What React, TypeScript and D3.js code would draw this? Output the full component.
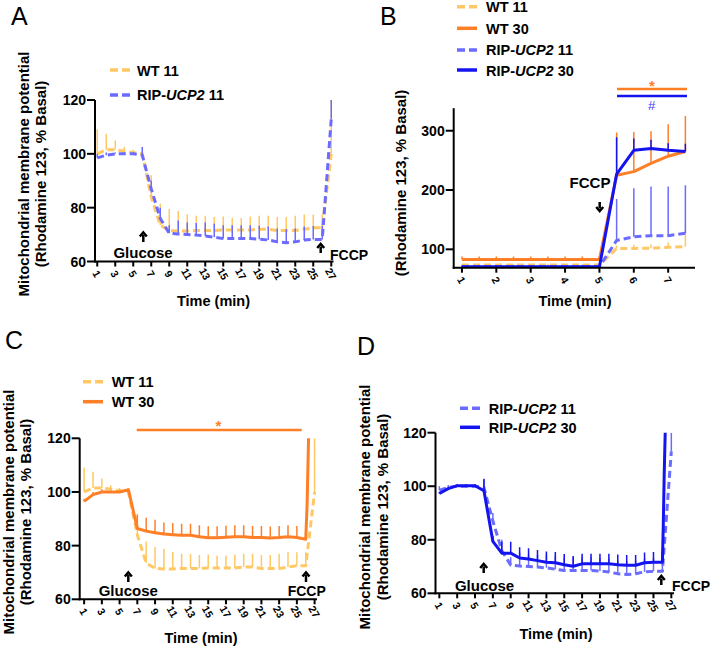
import React from 'react';
import * as d3 from 'd3';

const FONT = '"Liberation Sans", Arial, Helvetica, sans-serif';

const COL_WT11 = '#FFC864';
const COL_WT30 = '#FF7F27';
const COL_RIP11 = '#6B6BFF';
const COL_RIP30 = '#1414F0';

// ---------- Data: 27-minute recordings (panels A, C, D) ----------
const minutes = [1, 2, 3, 4, 5, 6, 7, 8, 9, 10, 11, 12, 13, 14, 15, 16, 17, 18, 19, 20, 21, 22, 23, 24, 25, 26, 27];

const wt11 = [100, 101.5, 101.5, 101, 100.5, 100, 84, 73.5, 71.5, 71.3, 71.3, 71.5, 71.5, 71.5, 71.7, 71.7, 71.7, 71.7, 72, 72, 71.5, 71.5, 71.5, 72, 72.5, 72.5, 100];
const wt11Err = [9, 6, 3.5, 1.5, 1, 1, 8, 8, 8, 7.5, 6.3, 5.5, 5.5, 5, 5, 4.5, 4.5, 5, 5, 5, 5, 5, 5.5, 5.5, 5, 5, 20];

const rip11 = [98.5, 99.5, 100, 100, 100, 99.5, 87, 76, 70.5, 70.2, 70, 69.8, 69.5, 69, 68.5, 68.5, 68.5, 68.5, 68.3, 68, 67.3, 67, 67.3, 68, 68.2, 68.2, 113];
const rip11Err = [1.5, 1, 0.5, 0.5, 0.5, 3, 3, 4, 3, 5, 4.5, 4.5, 5, 5, 5, 5, 5, 5, 5, 5, 5, 5, 5, 5, 5, 5, 7];

const wt30Time = [1, 2, 3, 4, 5, 6, 7, 8, 9, 10, 11, 12, 13, 14, 15, 16, 17, 18, 19, 20, 21, 22, 23, 24, 25, 26, 26.15, 26.35];
const wt30 = [96.5, 99, 100, 100, 100, 100.8, 86.4, 85.4, 84.8, 84.3, 84.1, 83.9, 83.9, 83.3, 82.9, 82.9, 83.1, 83.3, 83.3, 83, 83, 82.8, 83, 83.3, 83, 82.4, 95, 125];
const wt30Err = [1, 1, 1, 0.5, 0.5, 0.5, 5, 5, 4.8, 4.3, 4.3, 4.3, 4.3, 4.3, 4.3, 4.3, 4.3, 4.3, 4.3, 4.3, 4.3, 4.3, 4.3, 4.3, 4.3, 4.3, 0, 0];

const rip30Time = [1, 2, 3, 4, 5, 6, 7, 8, 9, 10, 11, 12, 13, 14, 15, 16, 17, 18, 19, 20, 21, 22, 23, 24, 25, 26, 26.1, 26.2, 26.35];
const rip30 = [97.3, 99.1, 100.2, 100.2, 100.2, 98.3, 79.4, 75, 75, 73.2, 72.8, 72.2, 71.6, 71.4, 70.7, 70.1, 71, 71, 71, 71, 70.7, 70.5, 70.5, 71.4, 71.6, 71.6, 85.6, 104, 125];
const rip30Err = [0.5, 0.5, 0.5, 0.5, 0.5, 4.5, 2, 4.3, 4.3, 4, 4, 4, 4, 4, 4, 3.8, 3.8, 3.8, 3.8, 3.8, 3.8, 3.8, 3.8, 3.8, 3.8, 3.8, 0, 0, 0];

// ---------- Data: FCCP recordings (panel B) ----------
const timeB = [1, 1.5, 2, 2.5, 3, 3.5, 4, 4.5, 5, 5.5, 6, 6.5, 7, 7.5];
const bWt11 = [73.5, 73.5, 73.5, 73.5, 73.5, 73.5, 73.5, 73.5, 73.5, 101.5, 101.5, 102, 103.5, 104.5];
const bWt11Err = [1.5, 1.5, 1.5, 1.5, 1.5, 1.5, 1.5, 1.5, 1.5, 5, 6, 6, 8, 27];
const bWt30 = [83, 83, 83, 83, 83, 83, 83, 83, 83, 225, 231, 245, 257, 265];
const bWt30Err = [5, 5, 5, 5, 5, 5, 5, 5, 5, 72, 67, 54, 54, 60];
const bRip11 = [70.8, 70.8, 70.8, 70.8, 70.8, 70.8, 70.8, 70.8, 70.8, 115, 121, 123, 123, 127];
const bRip11Err = [1, 1, 1, 1, 1, 1, 1, 1, 1, 70, 82, 83, 83, 81];
const bRip30 = [70.5, 70.5, 70.5, 70.5, 70.5, 70.5, 70.5, 70.5, 70.5, 227, 267, 270, 267, 265];
const bRip30Err = [2, 2, 2, 2, 2, 2, 2, 2, 2, 62, 20, 15, 12, 13];

// ---------- Ticks ----------
const oddMinuteTicks = [1, 3, 5, 7, 9, 11, 13, 15, 17, 19, 21, 23, 25, 27];
const yTicksPct = [60, 80, 100, 120];
const xTicksB = [1, 2, 3, 4, 5, 6, 7];
const yTicksB = [100, 200, 300];

type Series = { t: number[]; v: number[]; e: number[]; color: string; dashed: boolean; width: number };

type PanelProps = {
  id: string;
  xDomain: [number, number];
  xRange: [number, number];
  yDomain: [number, number];
  yRange: [number, number];
  xTicks: number[];
  yTicks: number[];
  series: Series[];
};

function Panel(p: PanelProps) {
  const x = d3.scaleLinear().domain(p.xDomain).range(p.xRange);
  const y = d3.scaleLinear().domain(p.yDomain).range(p.yRange);
  const [x0, x1] = p.xRange;
  const [y0, y1] = p.yRange;
  const line = d3
    .line<[number, number]>()
    .x((d) => x(d[0]))
    .y((d) => y(d[1]));
  return (
    <g>
      <defs>
        <clipPath id={p.id}>
          <rect x={x0} y={y1} width={x1 - x0 + 4} height={y0 - y1} />
        </clipPath>
      </defs>
      <g clipPath={`url(#${p.id})`}>
        {p.series.map((s, i) => (
          <g key={i}>
            {s.t.map((t, j) =>
              s.e[j] > 0 ? (
                <line key={j} x1={x(t)} x2={x(t)} y1={y(s.v[j])} y2={y(s.v[j] + s.e[j])} stroke={s.color} strokeWidth={1.5} />
              ) : null
            )}
            <path
              d={line(s.t.map((t, j) => [t, s.v[j]] as [number, number])) || ''}
              fill="none"
              stroke={s.color}
              strokeWidth={s.width}
              strokeDasharray={s.dashed ? '7,4' : undefined}
              strokeLinejoin="round"
            />
          </g>
        ))}
      </g>
      {/* axes */}
      <line x1={x0} x2={x0} y1={y0 + 1} y2={y1} stroke="#000" strokeWidth={2} />
      <line x1={x0 - 1} x2={x1} y1={y0} y2={y0} stroke="#000" strokeWidth={2} />
      {p.yTicks.map((v) => (
        <g key={'y' + v}>
          <line x1={x0 - 8} x2={x0} y1={y(v)} y2={y(v)} stroke="#000" strokeWidth={2} />
          <text x={x0 - 9} y={y(v)} dy="0.36em" textAnchor="end" fontFamily={FONT} fontWeight="bold" fontSize={14}>
            {v}
          </text>
        </g>
      ))}
      {p.xTicks.map((t) => (
        <g key={'x' + t}>
          <line x1={x(t)} x2={x(t)} y1={y0} y2={y0 + 5} stroke="#000" strokeWidth={2} />
          <text
            transform={`translate(${x(t) - 0.5},${y0 + 12.5}) rotate(60)`}
            textAnchor="middle"
            dy="0.35em"
            fontFamily={FONT}
            fontWeight="bold"
            fontSize={10.5}
          >
            {t}
          </text>
        </g>
      ))}
    </g>
  );
}

function LegendItem({ x, y, tx, ty, color, dashed, label }: { x: number; y: number; tx: number; ty: number; color: string; dashed: boolean; label: React.ReactNode }) {
  return (
    <g>
      <line x1={x} x2={x + 20} y1={y} y2={y} stroke={color} strokeWidth={3.5} strokeDasharray={dashed ? '8,4' : undefined} />
      <text x={tx} y={ty} fontFamily={FONT} fontWeight="bold" fontSize={14.5}>
        {label}
      </text>
    </g>
  );
}

const ripLabel = (n: string) => (
  <>
    RIP-<tspan fontStyle="italic">UCP2</tspan> {n}
  </>
);

function Arrow({ x, tip, base }: { x: number; tip: number; base: number }) {
  const dir = base > tip ? 1 : -1;
  return (
    <g>
      <line x1={x} x2={x} y1={base} y2={tip + dir * 3} stroke="#000" strokeWidth={2.5} />
      <path d={`M${x - 3.5},${tip + dir * 4.5} L${x},${tip + dir * 0.5} L${x + 3.5},${tip + dir * 4.5}`} fill="none" stroke="#000" strokeWidth={2.5} />
    </g>
  );
}

function YLabel({ bx1, bx2, cy }: { bx1?: number; bx2: number; cy: number }) {
  return (
    <g fontFamily={FONT} fontWeight="bold" fontSize={15}>
      {bx1 !== undefined && (
        <text transform={`translate(${bx1},${cy}) rotate(-90)`} textAnchor="middle">
          Mitochondrial membrane potential
        </text>
      )}
      <text transform={`translate(${bx2},${cy}) rotate(-90)`} textAnchor="middle">
        (Rhodamine 123, % Basal)
      </text>
    </g>
  );
}

export default function App() {
  const sWt11: Series = { t: minutes, v: wt11, e: wt11Err, color: COL_WT11, dashed: true, width: 3 };
  const sRip11: Series = { t: minutes, v: rip11, e: rip11Err, color: COL_RIP11, dashed: true, width: 3 };
  const sWt30: Series = { t: wt30Time, v: wt30, e: wt30Err, color: COL_WT30, dashed: false, width: 3 };
  const sRip30: Series = { t: rip30Time, v: rip30, e: rip30Err, color: COL_RIP30, dashed: false, width: 3 };

  const txt = { fontFamily: FONT, fontWeight: 'bold' as const };

  return (
    <svg width={714} height={649} style={{ position: 'absolute', left: 0, top: 0, background: '#fff' }}>
      <rect width={714} height={649} fill="#fff" />

      {/* Panel letters */}
      <g fontFamily={FONT} fontSize={25}>
        <text x={11} y={25}>A</text>
        <text x={380} y={25}>B</text>
        <text x={5} y={349}>C</text>
        <text x={357} y={355}>D</text>
      </g>

      {/* ---------- Panel A ---------- */}
      <Panel
        id="clipA"
        xDomain={[0.75, 27.25]}
        xRange={[95, 333.5]}
        yDomain={[60, 120]}
        yRange={[261.5, 100]}
        xTicks={oddMinuteTicks}
        yTicks={yTicksPct}
        series={[sWt11, sRip11]}
      />
      <LegendItem x={110} y={70} tx={137} ty={76} color={COL_WT11} dashed label="WT 11" />
      <LegendItem x={110} y={95} tx={137} ty={100} color={COL_RIP11} dashed label={ripLabel('11')} />
      <YLabel bx1={29} bx2={46} cy={174} />
      <text x={213.5} y={306} textAnchor="middle" fontSize={14.5} {...txt}>Time (min)</text>
      <Arrow x={143.3} tip={232} base={242} />
      <text x={143} y={258} textAnchor="middle" fontSize={15} {...txt}>Glucose</text>
      <Arrow x={320.7} tip={243.5} base={253} />
      <text x={330} y={260} fontSize={14} {...txt}>FCCP</text>

      {/* ---------- Panel B ---------- */}
      <Panel
        id="clipB"
        xDomain={[0.76, 7.78]}
        xRange={[453.7, 695]}
        yDomain={[69, 338]}
        yRange={[267.7, 108.2]}
        xTicks={xTicksB}
        yTicks={yTicksB}
        series={[
          { t: timeB, v: bWt11, e: bWt11Err, color: COL_WT11, dashed: true, width: 3 },
          { t: timeB, v: bWt30, e: bWt30Err, color: COL_WT30, dashed: false, width: 3 },
          { t: timeB, v: bRip11, e: bRip11Err, color: COL_RIP11, dashed: true, width: 3 },
          { t: timeB, v: bRip30, e: bRip30Err, color: COL_RIP30, dashed: false, width: 3 },
        ]}
      />
      <LegendItem x={457} y={6.7} tx={486} ty={12} color={COL_WT11} dashed label="WT 11" />
      <LegendItem x={457} y={28.3} tx={486} ty={33.5} color={COL_WT30} dashed={false} label="WT 30" />
      <LegendItem x={457} y={50} tx={486} ty={55} color={COL_RIP11} dashed label={ripLabel('11')} />
      <LegendItem x={457} y={70} tx={486} ty={76} color={COL_RIP30} dashed={false} label={ripLabel('30')} />
      <YLabel bx2={406} cy={183} />
      <text x={575} y={306} textAnchor="middle" fontSize={14.5} {...txt}>Time (min)</text>
      <text x={590} y={188} textAnchor="middle" fontSize={15} {...txt}>FCCP</text>
      <Arrow x={599.7} tip={211.5} base={202} />
      <line x1={617} x2={687} y1={89} y2={89} stroke={COL_WT30} strokeWidth={2.5} />
      <text x={652} y={91} textAnchor="middle" fontSize={15} fill={COL_WT30} {...txt}>*</text>
      <line x1={617} x2={687} y1={96} y2={96} stroke={COL_RIP30} strokeWidth={2.5} />
      <text x={651.5} y={110} textAnchor="middle" fontSize={13} fill={'#3A3AFF'} fontFamily={FONT}>#</text>

      {/* ---------- Panel C ---------- */}
      <Panel
        id="clipC"
        xDomain={[0.5, 27.27]}
        xRange={[79.7, 317]}
        yDomain={[60, 120]}
        yRange={[599.3, 438.3]}
        xTicks={oddMinuteTicks}
        yTicks={yTicksPct}
        series={[sWt11, sWt30]}
      />
      <LegendItem x={83} y={381.7} tx={111.7} ty={387} color={COL_WT11} dashed label="WT 11" />
      <LegendItem x={83} y={401.7} tx={111.7} ty={407.3} color={COL_WT30} dashed={false} label="WT 30" />
      <YLabel bx1={13.5} bx2={30.5} cy={512} />
      <text x={201} y={643} textAnchor="middle" fontSize={14.5} {...txt}>Time (min)</text>
      <Arrow x={128.3} tip={572} base={582} />
      <text x={128.3} y={596} textAnchor="middle" fontSize={15} {...txt}>Glucose</text>
      <Arrow x={306} tip={572} base={582} />
      <text x={306.7} y={596} textAnchor="middle" fontSize={14} {...txt}>FCCP</text>
      <line x1={136.7} x2={301.7} y1={430} y2={430} stroke={COL_WT30} strokeWidth={2.5} />
      <text x={218.3} y={431} textAnchor="middle" fontSize={15} fill={COL_WT30} {...txt}>*</text>

      {/* ---------- Panel D ---------- */}
      <Panel
        id="clipD"
        xDomain={[0.57, 27.3]}
        xRange={[435.5, 674]}
        yDomain={[60, 120]}
        yRange={[593.3, 432.7]}
        xTicks={oddMinuteTicks}
        yTicks={yTicksPct}
        series={[sRip11, sRip30]}
      />
      <LegendItem x={460} y={408.3} tx={488.7} ty={414} color={COL_RIP11} dashed label={ripLabel('11')} />
      <LegendItem x={460} y={427.3} tx={488.7} ty={432.7} color={COL_RIP30} dashed={false} label={ripLabel('30')} />
      <YLabel bx1={370} bx2={387.5} cy={507} />
      <text x={556} y={639} textAnchor="middle" fontSize={14.5} {...txt}>Time (min)</text>
      <Arrow x={483.7} tip={563.5} base={573} />
      <text x={484.5} y={590.5} textAnchor="middle" fontSize={15} {...txt}>Glucose</text>
      <Arrow x={661.3} tip={575.5} base={585} />
      <text x={672} y={590.7} fontSize={14} {...txt}>FCCP</text>
    </svg>
  );
}
